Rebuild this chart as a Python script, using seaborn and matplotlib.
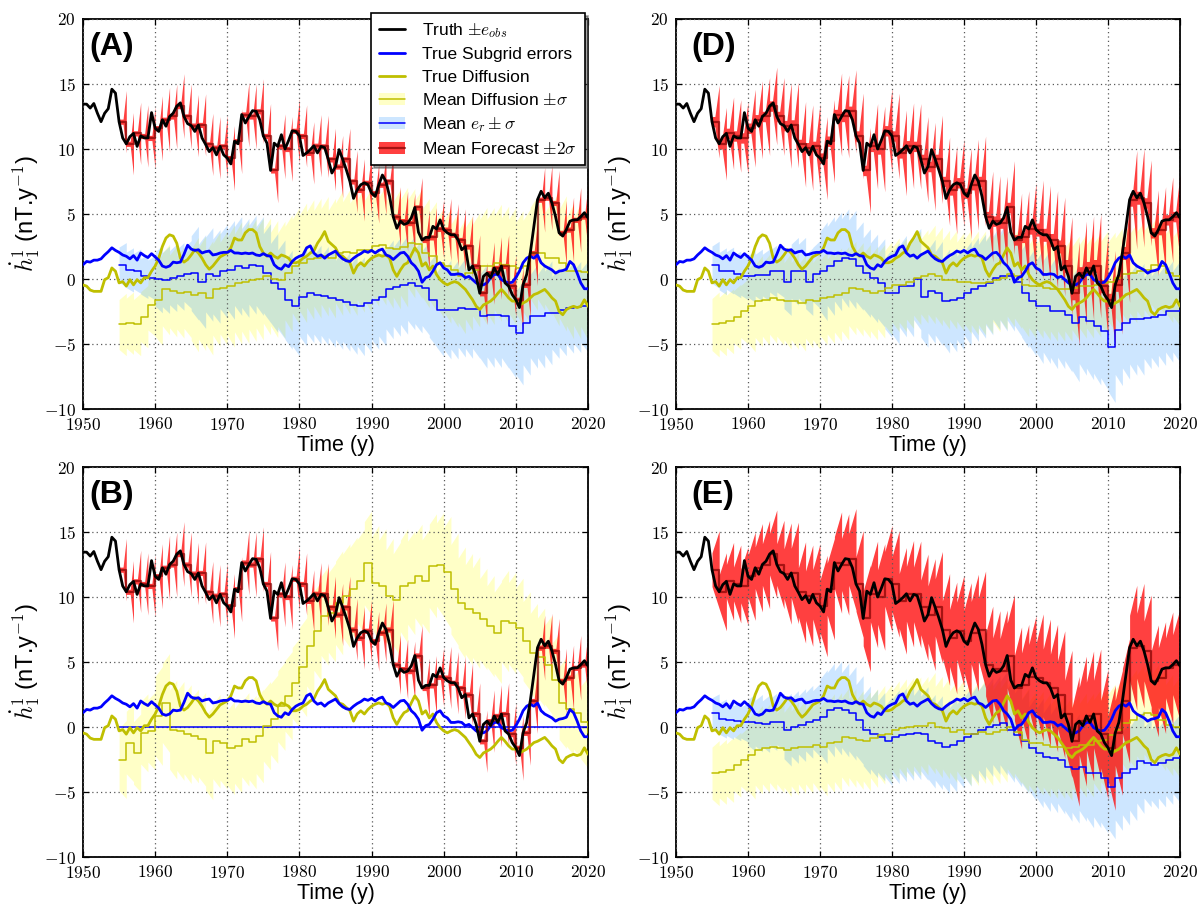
import numpy as np
import matplotlib
matplotlib.use("Agg")
import matplotlib.pyplot as plt
from matplotlib.patches import Patch
from matplotlib.lines import Line2D
from matplotlib.ticker import FuncFormatter
import seaborn as sns

# ---------------------------------------------------------------- data
# half-yearly truth and true model-error components, 1950.0 .. 2020.0
truth_years = np.arange(1950.0, 2020.01, 0.5)
truth = [
    13.45, 13.45, 13.15, 13.5, 12.75, 12.1, 12.75, 13.1, 14.6, 14.3,
    12.1, 10.85, 10.4, 10.95, 11.2, 10.2, 11.0, 10.85, 10.85, 12.8,
    11.6, 11.35, 12.25, 11.75, 12.5, 12.75, 13.3, 13.55, 12.5, 11.95,
    11.8, 11.35, 11.85, 10.85, 10.35, 9.8, 10.1, 9.55, 10.2, 9.55,
    9.3, 8.85, 10.6, 10.4, 12.65, 12.0, 12.5, 12.95, 12.9, 12.25,
    11.0, 10.45, 8.35, 10.45, 10.2, 11.1, 10.0, 10.65, 11.4, 11.35,
    11.0, 9.5, 9.7, 9.95, 10.25, 9.7, 10.2, 10.1, 9.2, 8.15,
    8.65, 9.95, 9.2, 8.4, 7.5, 6.2, 6.85, 7.25, 7.4, 7.25,
    6.6, 6.35, 7.25, 8.0, 7.5, 6.35, 4.8, 3.9, 4.45, 4.2,
    4.3, 4.7, 5.5, 3.6, 3.0, 3.2, 3.2, 4.05, 3.85, 4.55,
    3.8, 3.55, 3.4, 3.4, 3.0, 2.25, 2.5, 0.7, 1.0, 0.2,
    -1.1, 0.2, 0.45, 0.1, 0.85, 0.35, 1.0, -0.3, -0.55, -1.2,
    -1.6, -2.2, -0.45, 0.35, 2.0, 4.05, 6.1, 6.75, 6.25, 6.6,
    5.85, 4.8, 3.55, 3.3, 3.8, 4.45, 4.55, 4.55, 4.8, 5.1,
    4.7,
]
true_subgrid = [
    1.1, 1.35, 1.3, 1.45, 1.45, 1.55, 1.85, 2.1, 2.4, 2.2,
    2.05, 1.85, 1.75, 1.55, 1.8, 1.45, 2.0, 1.8, 1.65, 1.95,
    1.7, 1.45, 1.0, 0.9, 1.0, 1.3, 1.25, 1.3, 1.9, 2.6,
    2.3, 2.2, 2.25, 2.0, 2.1, 2.15, 1.85, 1.9, 2.0, 2.05,
    2.05, 2.2, 2.0, 2.0, 1.95, 2.0, 1.95, 2.0, 1.85, 1.8,
    1.95, 1.8, 1.75, 1.1, 0.85, 0.75, 1.1, 0.95, 1.35, 1.6,
    1.75, 1.85, 2.4, 2.55, 2.0, 1.75, 1.85, 1.6, 1.85, 2.0,
    2.15, 1.8, 1.55, 1.4, 1.35, 1.6, 1.8, 1.95, 2.15, 2.05,
    2.2, 2.0, 2.2, 2.3, 1.85, 1.75, 1.5, 1.75, 2.0, 2.05,
    1.75, 1.25, 1.0, 0.6, -0.25, 0.1, 0.2, 0.6, 1.1, 1.25,
    0.85, 0.7, 0.35, 0.35, 0.4, 0.35, 0.1, 0.2, -0.05, -0.3,
    -0.45, -0.45, -0.3, 0.1, 0.35, 0.35, -0.05, -0.2, -0.3, -0.25,
    0.1, 0.6, 1.25, 1.6, 1.75, 1.6, 1.85, 1.25, 1.0, 0.85,
    0.7, 0.45, 0.6, 0.65, 0.75, 1.35, 1.1, 0.45, -0.3, -0.75,
    -0.75,
]
true_diffusion = [
    -0.45, -0.55, -0.85, -0.95, -0.95, -0.95, -0.05, 0.1, 0.85, 0.6,
    -0.3, -0.2, -0.55, -0.05, -0.45, -0.05, -0.3, 0.1, 0.1, 0.6,
    1.0, 1.6, 2.5, 3.15, 3.4, 3.3, 2.75, 1.6, 1.3, 1.5,
    1.85, 2.25, 2.0, 1.6, 1.1, 0.75, 1.0, 1.35, 1.7, 1.85,
    2.0, 2.4, 3.15, 3.0, 3.0, 3.55, 3.8, 3.8, 3.55, 2.5,
    2.0, 1.75, 2.0, 1.75, 1.6, 1.85, 1.75, 1.6, 1.25, 1.25,
    1.35, 1.6, 1.75, 2.0, 2.15, 2.75, 3.15, 3.65, 2.9, 2.65,
    2.4, 1.85, 1.75, 1.5, 1.25, 0.45, 1.0, 1.25, 1.0, 1.35,
    1.6, 1.75, 1.85, 1.75, 1.85, 1.6, 0.7, 0.2, 0.7, 1.1,
    1.25, 1.85, 2.4, 2.0, 1.0, 1.25, 0.7, 1.0, 0.35, -0.05,
    -0.3, -0.45, -0.3, -0.2, -0.3, -0.55, -0.8, -1.2, -1.6, -2.1,
    -2.35, -2.0, -1.85, -1.7, -1.45, -1.1, -0.8, -1.1, -1.45, -1.7,
    -1.7, -2.0, -1.85, -1.7, -1.45, -1.2, -1.1, -0.95, -0.8, -1.1,
    -1.45, -1.7, -2.5, -2.75, -2.35, -2.2, -2.1, -2.2, -2.1, -1.6,
    -2.1,
]

# yearly assimilation cycles 1955 .. 2020
cycle_years = np.arange(1955, 2021)
forecast_mean = [
    12.1, 10.4, 11.2, 11.0, 10.85, 11.6, 12.25, 12.5, 13.3, 12.5,
    11.8, 11.85, 10.35, 10.1, 10.2, 9.3, 10.6, 12.65, 12.5, 12.9,
    11.0, 8.35, 10.2, 10.0, 11.4, 11.0, 9.7, 10.25, 10.2, 9.2,
    8.65, 9.2, 7.5, 6.85, 7.4, 6.6, 7.25, 7.5, 4.8, 4.45,
    4.3, 5.5, 3.0, 3.2, 3.85, 3.8, 3.4, 3.0, 2.5, 1.0,
    -1.1, 0.45, 0.85, 1.0, -0.55, -1.6, -0.45, 2.0, 6.1, 6.25,
    5.85, 3.55, 3.8, 4.55, 4.8,
]

# ensemble mean diffusion / e_r (yearly) and their spreads (5-year blocks)
diff_mean_A = [
    -3.5, -3.4, -3.5, -2.9, -2.0, -1.6, -0.8, -0.95, -1.05, -1.0,
    -1.2, -1.1, -1.45, -0.8, -0.7, -0.55, -0.3, -0.25, -0.1, 0.0,
    0.2, 0.0, -0.05, 0.45, 1.0, 1.25, 1.5, 1.6, 1.75, 1.6,
    2.0, 2.1, 2.0, 2.25, 2.2, 2.5, 2.6, 2.35, 2.3, 2.45,
    2.75, 2.7, 2.0, 1.75, 1.25, 1.0, 0.7, 0.2, 0.45, 0.7,
    1.0, 1.0, 1.25, 1.1, 1.0, 0.85, 1.0, 2.0, 2.0, 1.6,
    1.6, 1.2, 0.6, 0.6, 0.5, 0.45,
]
diff_sd_A = [2.4, 3.5, 4.4, 4.7, 4.5, 4.6, 4.8, 4.6, 4.2, 4.4, 4.5, 4.4, 5.2]
er_mean_A = [
    1.1, 0.7, 0.6, 0.2, 0.1, 0.0, -0.05, 0.1, 0.2, 0.35,
    0.45, -0.2, 0.35, 0.2, 0.6, 0.7, 1.0, 0.85, 1.1, 1.0,
    0.45, -0.3, -0.8, -1.6, -2.1, -1.35, -1.1, -1.2, -1.3, -1.45,
    -1.6, -1.75, -2.0, -2.1, -1.85, -1.6, -1.35, -0.8, -0.6, -0.45,
    -0.3, -0.55, -0.7, -1.6, -2.35, -2.35, -2.35, -2.2, -2.3, -2.3,
    -2.85, -2.8, -2.8, -2.85, -3.6, -4.15, -3.4, -2.85, -2.85, -2.6,
    -2.6, -2.4, -2.2, -2.15, -2.1, -2.1,
]
er_sd_A = [1.7, 2.6, 3.6, 3.8, 3.8, 3.8, 3.8, 3.8, 3.6, 3.8, 4.0, 4.0, 3.5]

diff_mean_B = [
    -2.5, -1.2, -2.0, -0.45, -0.3, 0.85, 1.85, -0.2, -0.3, -0.55,
    -0.7, -0.95, -2.0, -1.1, -1.2, -1.6, -1.45, -0.95, -1.15, -0.7,
    0.1, 0.6, 1.6, 2.4, 3.4, 4.6, 6.2, 7.4, 8.55, 8.8,
    9.55, 10.1, 10.6, 11.2, 12.6, 11.1, 10.85, 10.1, 9.8, 10.85,
    11.1, 11.6, 11.2, 12.4, 12.5, 11.9, 10.6, 9.55, 9.05, 8.8,
    8.3, 7.75, 7.25, 8.15, 8.0, 7.65, 6.6, 5.7, 5.35, 4.8,
    3.65, 1.85, 1.35, 1.1, 0.35, -0.45,
]
diff_sd_B = [3.0, 3.8, 3.6, 3.6, 3.4, 3.8, 4.0, 4.4, 4.0, 4.3, 3.9, 3.8, 3.5]

diff_mean_D = [
    -3.5, -3.4, -3.25, -2.9, -2.5, -2.1, -1.7, -1.6, -1.45, -1.6,
    -1.7, -1.7, -1.85, -1.6, -1.7, -1.45, -1.35, -1.2, -1.1, -0.7,
    -0.8, -0.95, -1.1, -0.95, -0.7, -0.45, -0.45, -0.2, 0.1, 0.2,
    0.35, 0.2, -0.05, -0.05, -0.2, -0.2, -0.3, -0.3, -0.2, -0.05,
    0.1, 0.35, 0.2, -0.45, -0.55, -0.55, -0.7, -0.8, -0.8, -0.8,
    -0.7, -0.55, -0.55, -0.45, -0.3, -0.2, 0.1, 0.35, 0.45, 0.6,
    0.7, 1.1, 1.0, 0.45, 0.2, 0.1,
]
diff_sd_D = [2.5, 3.5, 3.7, 3.6, 3.6, 3.6, 3.8, 4.0, 4.0, 4.0, 4.0, 3.8, 3.8]
er_mean_D = [
    1.1, 0.6, 0.65, 0.35, 0.2, 0.2, 0.3, 0.3, 0.6, 0.6,
    -0.2, 0.6, 0.6, -0.2, 0.35, 0.6, 1.0, 1.35, 1.6, 1.5,
    1.0, 0.45, 0.05, -0.3, -1.1, -1.1, -0.55, -0.55, 0.0, -1.35,
    -0.95, -1.1, -1.7, -1.6, -1.45, -1.1, -0.8, -0.55, -0.3, 0.1,
    0.2, 0.2, -0.2, -1.1, -1.7, -2.1, -2.1, -2.5, -2.5, -2.75,
    -3.4, -2.9, -3.25, -3.65, -4.0, -5.2, -3.9, -3.4, -3.1, -3.1,
    -3.0, -2.9, -2.75, -2.5, -2.5, -2.35,
]
er_sd_D = [1.8, 2.0, 2.6, 3.8, 3.4, 3.9, 4.0, 4.0, 4.2, 4.4, 4.5, 4.3, 3.9]

diff_mean_E = [
    -3.55, -3.45, -3.3, -2.9, -2.55, -2.15, -1.75, -1.65, -1.55, -1.65,
    -1.75, -1.65, -1.5, -1.5, -1.4, -1.5, -1.25, -1.15, -0.8, -0.85,
    -1.0, -1.1, -0.85, -0.6, -0.5, -0.25, -0.1, 0.0, 0.05, 0.1,
    0.3, 0.0, -0.1, -0.35, -0.25, -0.5, -0.5, -0.35, -0.5, -0.35,
    -0.25, 0.0, -0.35, -1.0, -1.25, -1.25, -1.4, -1.5, -1.5, -1.65,
    -1.5, -1.4, -1.4, -1.1, -1.0, -0.6, -0.25, 0.3, 0.55, 0.9,
    1.05, 0.9, 0.55, 0.15, 0.0, -0.1,
]
diff_sd_E = [2.5, 3.4, 3.6, 3.8, 3.8, 3.8, 3.9, 4.0, 4.0, 4.0, 4.0, 3.9, 3.9]
er_mean_E = [
    1.05, 0.65, 0.55, 0.45, 0.35, 0.35, 0.3, 0.25, 0.4, 0.4,
    -0.2, 0.0, 0.15, 0.4, 0.55, 0.8, 1.3, 1.45, 1.3, 1.05,
    0.55, -0.25, -0.5, -0.75, -1.1, -0.75, -0.6, -0.5, -0.45, -0.5,
    -1.1, -1.2, -1.5, -1.4, -1.1, -0.75, -0.5, -0.25, 0.0, 0.15,
    0.3, -0.25, -0.6, -1.1, -1.65, -2.0, -2.3, -2.4, -2.5, -3.05,
    -3.2, -3.05, -3.55, -3.55, -3.95, -4.6, -3.95, -3.55, -3.2, -2.65,
    -2.75, -2.9, -2.75, -2.55, -2.4, -2.3,
]
er_sd_E = [1.5, 2.2, 2.8, 3.6, 3.4, 3.6, 3.6, 3.8, 4.0, 4.2, 4.2, 4.0, 3.4]

# forecast 2-sigma half width at start / end of each cycle (5-year blocks)
fc_start_A = [0.2, 0.2, 0.2, 0.2, 0.2, 0.2, 0.2, 0.2, 0.2, 0.2, 0.2, 0.2, 0.2]
fc_end_A = [2.4, 2.5, 2.4, 2.5, 2.5, 2.4, 2.4, 2.3, 2.3, 2.4, 2.4, 2.5, 2.5]
fc_start_D = [0.4, 0.4, 0.4, 0.4, 0.4, 0.4, 0.4, 0.4, 0.4, 0.5, 0.5, 0.5, 0.4]
fc_end_D = [2.8, 3.0, 3.3, 3.2, 3.3, 3.3, 3.4, 3.5, 3.6, 3.8, 4.0, 3.8, 3.3]
fc_start_E = [1.3, 1.6, 1.9, 2.0, 2.1, 2.1, 2.2, 2.4, 2.5, 2.6, 2.6, 2.5, 2.3]
fc_end_E = [3.0, 3.4, 3.9, 3.9, 4.1, 4.1, 4.3, 4.5, 4.7, 4.9, 5.0, 4.8, 4.3]

x_ticks = [1950, 1960, 1970, 1980, 1990, 2000, 2010, 2020]
y_ticks = [-10, -5, 0, 5, 10, 15, 20]

# ---------------------------------------------------------------- style
sns.set_theme(style="ticks")
plt.rcParams.update({
    "font.family": ["Liberation Sans", "DejaVu Sans"],
    "mathtext.fontset": "cm",
    "text.color": "black",
    "axes.labelcolor": "black",
    "axes.linewidth": 1.3,
    "axes.edgecolor": "black",
    "xtick.direction": "in",
    "ytick.direction": "in",
    "xtick.top": True,
    "ytick.right": True,
    "xtick.major.size": 4,
    "ytick.major.size": 4,
    "xtick.color": "black",
    "ytick.color": "black",
})

OLIVE = (0.75, 0.75, 0.0)
BAND_Y = (1.0, 1.0, 0.0, 0.22)
BAND_B = (0.118, 0.565, 1.0, 0.22)
RED = (1.0, 0.0, 0.0, 0.75)
DARKRED = (0.5, 0.0, 0.0, 0.7)

n_cycles = len(cycle_years) - 1


def blocks(vals):
    return np.repeat(np.asarray(vals, float), 5)[:n_cycles]


def sawtooth(centre, half0, half1, ramp=0.0):
    """Band that opens from half0 to half1 over each yearly cycle.

    The spread stays at half0 until ``ramp`` of the cycle has elapsed,
    then widens linearly to half1 and collapses at the next analysis."""
    xs, lo, hi = [], [], []
    for t, c, a, b in zip(cycle_years[:-1], centre, half0, half1):
        if ramp > 0:
            xs += [t, t + ramp, t + 1]
            lo += [c - a, c - a, c - b]
            hi += [c + a, c + a, c + b]
        else:
            xs += [t, t + 1]
            lo += [c - a, c - b]
            hi += [c + a, c + b]
    return np.array(xs, float), np.array(lo), np.array(hi)


def line(ax, x, y, **kw):
    sns.lineplot(x=np.asarray(x, float), y=np.asarray(y, float), ax=ax,
                 estimator=None, sort=False, legend=False, **kw)


def panel(ax, label, lab_dx, diff_mean, diff_sd, er_mean, er_sd,
          fc_start, fc_end, fc_ramp):
    dm = np.asarray(diff_mean, float)
    sd = blocks(diff_sd)
    x, lo, hi = sawtooth(dm[:-1], 0.8 * sd, sd)
    ax.fill_between(x, lo, hi, color=BAND_Y, lw=0, zorder=1)
    if er_sd is not None:
        em = np.asarray(er_mean, float)
        se = blocks(er_sd)
        x, lo, hi = sawtooth(em[:-1], 0.8 * se, se)
        ax.fill_between(x, lo, hi, color=BAND_B, lw=0, zorder=1.1)
        line(ax, cycle_years, em, color="blue", lw=1.1,
             drawstyle="steps-post", zorder=3)
    else:
        line(ax, [1955, 2020], [0, 0], color="blue", lw=1.1, zorder=3)
    line(ax, cycle_years, dm, color=OLIVE, lw=1.1,
         drawstyle="steps-post", zorder=3)

    fm = np.asarray(forecast_mean, float)
    x, lo, hi = sawtooth(fm, blocks(fc_start), blocks(fc_end), fc_ramp)
    ax.fill_between(x, lo, hi, color=RED, lw=0, zorder=2)

    line(ax, truth_years, true_diffusion, color=OLIVE, lw=2.0, zorder=4)
    line(ax, truth_years, true_subgrid, color="blue", lw=2.0, zorder=4)
    line(ax, np.append(cycle_years[:-1], 2020), np.append(fm, fm[-1]),
         color=DARKRED, lw=1.6, drawstyle="steps-post", zorder=5)
    line(ax, truth_years, truth, color="black", lw=2.0, zorder=6)

    ax.set_xlim(1950, 2020)
    ax.set_ylim(-10, 20)
    ax.set_xticks(x_ticks)
    ax.set_yticks(y_ticks)
    fmt = FuncFormatter(lambda v, p: r"$%d$" % int(round(v)))
    ax.xaxis.set_major_formatter(fmt)
    ax.yaxis.set_major_formatter(fmt)
    ax.tick_params(labelsize=12.5, pad=5, width=0.9)
    ax.grid(True, ls=(0, (1, 2.5)), color="0.35", lw=0.9)
    ax.set_axisbelow(False)
    ax.set_xlabel("Time (y)", fontsize=15.5)
    ax.xaxis.set_label_coords(0.5, -0.066)
    ax.set_ylabel(r"$\dot{h}_1^1$ (nT.y$^{-1}$)", fontsize=17)
    ax.yaxis.set_label_coords(-0.082, 0.5)
    for s in ax.spines.values():
        s.set_visible(True)
        s.set_color("black")
    ax.text(lab_dx, 0.928, label, transform=ax.transAxes, fontsize=23,
            fontweight="bold", va="center", ha="left", color="black",
            zorder=10)


fig = plt.figure(figsize=(11.99, 9.05), dpi=100)
W, H = 1199.0, 905.0
axA = fig.add_axes([83 / W, 1 - 409 / H, 505 / W, 390 / H])
axD = fig.add_axes([676 / W, 1 - 409 / H, 504 / W, 390 / H])
axB = fig.add_axes([83 / W, 1 - 857 / H, 505 / W, 390 / H])
axE = fig.add_axes([676 / W, 1 - 857 / H, 504 / W, 390 / H])

panel(axA, "(A)", 0.012, diff_mean_A, diff_sd_A, er_mean_A, er_sd_A,
      fc_start_A, fc_end_A, 0.55)
panel(axB, "(B)", 0.012, diff_mean_B, diff_sd_B, None, None,
      fc_start_A, fc_end_A, 0.55)
panel(axD, "(D)", 0.030, diff_mean_D, diff_sd_D, er_mean_D, er_sd_D,
      fc_start_D, fc_end_D, 0.4)
panel(axE, "(E)", 0.030, diff_mean_E, diff_sd_E, er_mean_E, er_sd_E,
      fc_start_E, fc_end_E, 0.0)

handles = [
    Line2D([], [], color="black", lw=2),
    Line2D([], [], color="blue", lw=2),
    Line2D([], [], color=OLIVE, lw=2),
    (Patch(facecolor=BAND_Y, lw=0), Line2D([], [], color=OLIVE, lw=1.1)),
    (Patch(facecolor=BAND_B, lw=0), Line2D([], [], color="blue", lw=1.1)),
    (Patch(facecolor=RED, lw=0), Line2D([], [], color=DARKRED, lw=1.6)),
]
labels = [
    r"Truth $\pm e_{obs}$",
    "True Subgrid errors",
    "True Diffusion",
    r"Mean Diffusion $\pm\sigma$",
    r"Mean $e_r \pm \sigma$",
    r"Mean Forecast $\pm 2\sigma$",
]
leg = axA.legend(handles, labels, loc="upper right",
                 bbox_to_anchor=(585 / W, 1 - 13 / H),
                 bbox_transform=fig.transFigure, borderaxespad=0,
                 fontsize=12.5, frameon=True, fancybox=False, shadow=True,
                 framealpha=1, edgecolor="black", handlelength=1.5,
                 handletextpad=1.0, labelspacing=0.42, borderpad=0.45)
leg.get_frame().set_linewidth(1.2)
leg.set_zorder(20)

fig.savefig("out.png", dpi=100)
